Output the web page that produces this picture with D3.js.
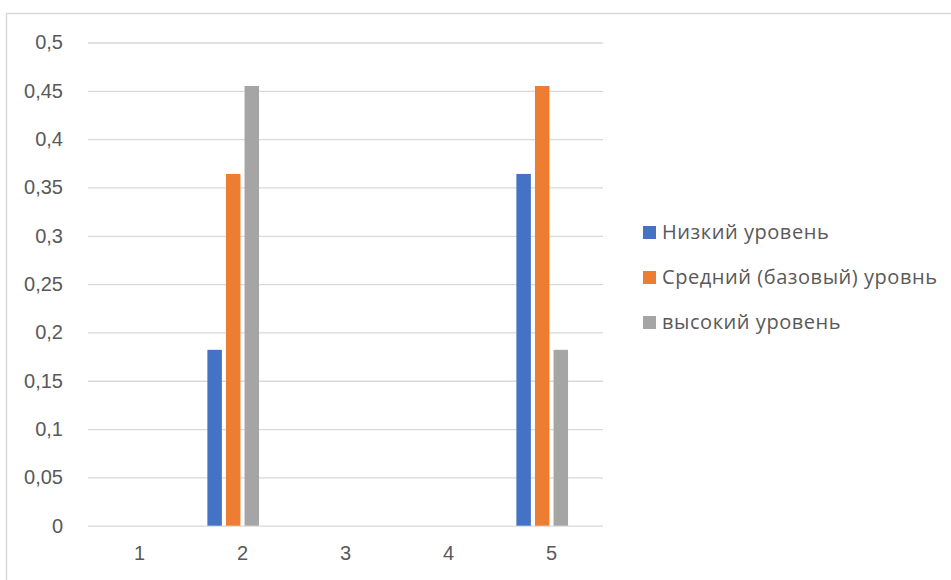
<!DOCTYPE html>
<html>
<head>
<meta charset="utf-8">
<script src="https://cdn.jsdelivr.net/npm/d3@7"></script>
<style>
  html, body { margin: 0; padding: 0; background: #fff; }
  svg { display: block; font-family: "Open Sans", "Noto Sans", sans-serif; }
</style>
</head>
<body>
<svg id="chart" width="951" height="580"></svg>
<script>
const categories = ["1", "2", "3", "4", "5"];
const seriesNames = ["Низкий уровень", "Средний (базовый) уровнь", "высокий уровень"];
const lowValues    = [0, 0.182, 0, 0, 0.364];
const mediumValues = [0, 0.364, 0, 0, 0.455];
const highValues   = [0, 0.455, 0, 0, 0.182];
const seriesColors = ["#4472c4", "#ed7d31", "#a5a5a5"];
const yTicks = [0, 0.05, 0.1, 0.15, 0.2, 0.25, 0.3, 0.35, 0.4, 0.45, 0.5];
const yTickLabels = ["0", "0,05", "0,1", "0,15", "0,2", "0,25", "0,3", "0,35", "0,4", "0,45", "0,5"];

const seriesValues = [lowValues, mediumValues, highValues];

const svg = d3.select("#chart");
const plot = { left: 88, right: 603, top: 42.5, bottom: 525.7 };
const fontSize = 20;

// chart area border
svg.append("rect")
  .attr("x", 6.5).attr("y", 13.5)
  .attr("width", 960).attr("height", 600)
  .attr("fill", "#fff").attr("stroke", "#d9d9d9").attr("stroke-width", 1.5);

const y = d3.scaleLinear().domain([0, 0.5]).range([plot.bottom, plot.top]);
const x0 = d3.scaleBand().domain(categories).range([plot.left, plot.right]).padding(0);
// slot layout inside each category (a fourth, empty slot as in the original)
const slots = [...seriesNames, "__empty__"];
const outer = x0.bandwidth() * 0.159;
const x1 = d3.scaleBand().domain(slots).range([outer, x0.bandwidth() - outer]).paddingInner(0.22).paddingOuter(0);

// gridlines
const yAxis = d3.axisLeft(y).tickValues(yTicks)
  .tickFormat((d, i) => yTickLabels[i])
  .tickSize(-(plot.right - plot.left)).tickPadding(25);
const gy = svg.append("g").attr("transform", `translate(${plot.left},0)`).call(yAxis);
gy.select(".domain").remove();
gy.selectAll(".tick line").attr("stroke", "#d9d9d9").attr("stroke-width", 1.3);
gy.selectAll(".tick text").attr("fill", "#595959").attr("font-size", fontSize);

// x axis labels
const xAxis = d3.axisBottom(x0).tickSize(0).tickPadding(20);
const gx = svg.append("g").attr("transform", `translate(0,${plot.bottom})`).call(xAxis);
gx.select(".domain").remove();
gx.selectAll(".tick text").attr("fill", "#595959").attr("font-size", fontSize);

// bars
const data = [];
categories.forEach((c, ci) => {
  seriesNames.forEach((s, si) => {
    data.push({ cat: c, series: s, value: seriesValues[si][ci], color: seriesColors[si] });
  });
});
svg.append("g").selectAll("rect")
  .data(data.filter(d => d.value > 0))
  .join("rect")
  .attr("x", d => x0(d.cat) + x1(d.series))
  .attr("width", x1.bandwidth())
  .attr("y", d => y(d.value))
  .attr("height", d => y(0) - y(d.value))
  .attr("fill", d => d.color);

// legend
const legend = svg.append("g").attr("transform", "translate(643,232)");
const items = legend.selectAll("g").data(seriesNames).join("g")
  .attr("transform", (d, i) => `translate(0,${i * 45})`);
items.append("rect").attr("x", 0).attr("y", -6).attr("width", 13).attr("height", 13)
  .attr("fill", (d, i) => seriesColors[i]);
items.append("text").attr("x", 19).attr("y", 0).attr("dy", "0.35em")
  .attr("fill", "#595959").attr("font-size", fontSize)
  .attr("letter-spacing", 0.55).text(d => d);
</script>
</body>
</html>
